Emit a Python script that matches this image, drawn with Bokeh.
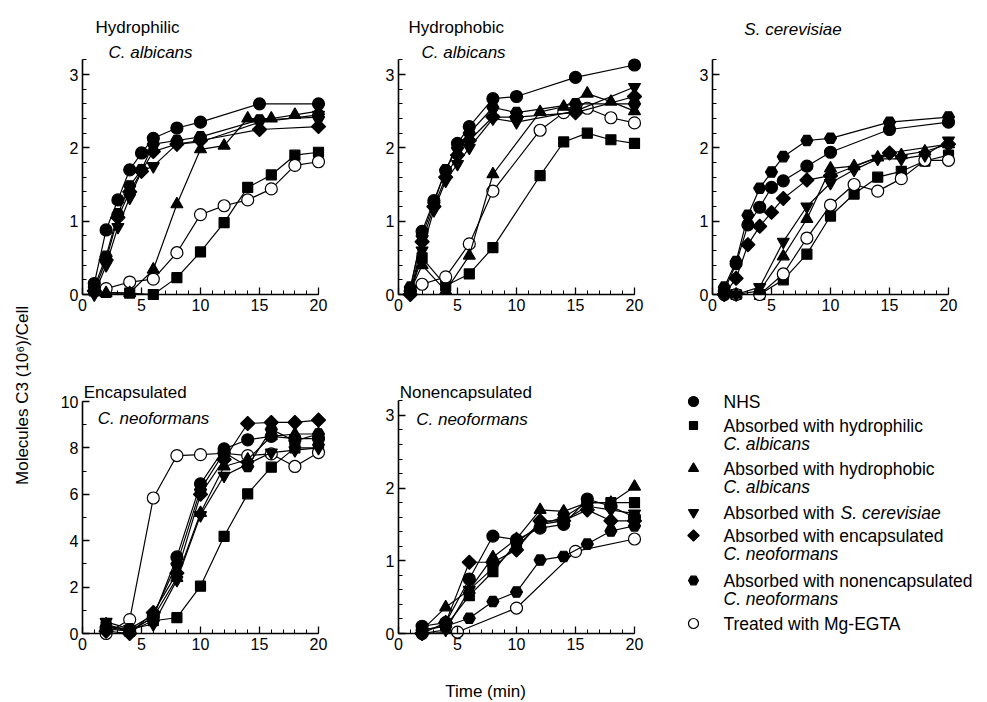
import math
from bokeh.plotting import figure
from bokeh.models import Range1d, Label, SingleIntervalTicker
from bokeh.layouts import row, column
from bokeh.embed import file_html
from bokeh.resources import INLINE

FONT = "Liberation Sans"

# ---------------- data ----------------
# Panel 1: Hydrophilic C. albicans
T1A = [1, 2, 3, 4, 5, 6, 8, 10, 15, 20]
T1B = [1, 2, 4, 6, 8, 10, 12, 14, 16, 18, 20]
p1_nhs = [0.15, 0.88, 1.29, 1.70, 1.93, 2.13, 2.27, 2.35, 2.60, 2.60]
p1_scer = [0.0, 0.40, 0.92, 1.32, 1.68, 1.75, 2.05, 2.08, 2.35, 2.45]
p1_enc = [0.05, 0.47, 1.05, 1.40, 1.68, 1.95, 2.05, 2.10, 2.25, 2.29]
p1_nonenc = [0.10, 0.52, 1.10, 1.48, 1.70, 2.05, 2.10, 2.15, 2.38, 2.42]
p1_hphil = [0.05, 0.03, 0.02, 0.0, 0.23, 0.58, 0.98, 1.46, 1.63, 1.90, 1.94]
p1_hphob = [0.05, 0.02, 0.02, 0.34, 1.23, 1.98, 2.03, 2.40, 2.40, 2.45, 2.50]
p1_egta = [0.05, 0.08, 0.17, 0.21, 0.57, 1.09, 1.21, 1.29, 1.44, 1.76, 1.81]

# Panel 2: Hydrophobic C. albicans
T2A = [1, 2, 3, 4, 5, 6, 8, 10, 15, 20]
T2B = [1, 2, 4, 6, 8, 12, 14, 16, 18, 20]
p2_nhs = [0.05, 0.86, 1.28, 1.69, 2.06, 2.29, 2.67, 2.70, 2.96, 3.13]
p2_scer = [0.0, 0.60, 1.15, 1.55, 1.78, 2.00, 2.40, 2.35, 2.50, 2.83]
p2_enc = [0.0, 0.72, 1.20, 1.60, 1.90, 2.10, 2.42, 2.42, 2.48, 2.70]
p2_nonenc = [0.10, 0.80, 1.25, 1.70, 2.00, 2.20, 2.55, 2.48, 2.60, 2.60]
p2_hphil = [0.05, 0.50, 0.12, 0.28, 0.64, 1.62, 2.08, 2.20, 2.11, 2.06]
p2_hphob = [0.05, 0.40, 0.05, 0.53, 1.64, 2.49, 2.56, 2.74, 2.63, 2.50]
p2_egta = [0.05, 0.14, 0.24, 0.69, 1.41, 2.24, 2.48, 2.54, 2.41, 2.34]

# Panel 3: S. cerevisiae
T3A = [1, 2, 3, 4, 5, 6, 8, 10, 15, 20]
T3B = [1, 2, 4, 6, 8, 10, 12, 14, 16, 18, 20]
p3_nhs = [0.05, 0.42, 0.95, 1.19, 1.46, 1.55, 1.75, 1.94, 2.25, 2.35]
p3_nonenc = [0.10, 0.45, 1.08, 1.45, 1.67, 1.88, 2.10, 2.13, 2.35, 2.42]
p3_enc = [0.0, 0.22, 0.68, 0.93, 1.12, 1.31, 1.56, 1.62, 1.93, 2.05]
p3_scer = [0.0, 0.0, 0.10, 0.72, 1.20, 1.52, 1.70, 1.85, 1.85, 1.90, 2.10]
p3_hphob = [0.05, 0.0, 0.05, 0.52, 1.03, 1.72, 1.75, 1.87, 1.90, 1.95, 2.05]
p3_hphil = [0.05, 0.0, 0.0, 0.20, 0.55, 1.07, 1.37, 1.60, 1.68, 1.82, 1.90]
p3_egta = [0.0, 0.0, 0.0, 0.28, 0.77, 1.22, 1.50, 1.41, 1.58, 1.83, 1.83]

# Panel 4: Encapsulated C. neoformans
T4 = [2, 4, 6, 8, 10, 12, 14, 16, 18, 20]
p4_nhs = [0.2, 0.1, 0.7, 3.3, 6.45, 7.96, 8.35, 8.5, 8.4, 8.4]
p4_hphil = [0.3, 0.1, 0.55, 0.68, 2.04, 4.19, 6.02, 7.17, 8.0, 8.0]
p4_hphob = [0.4, 0.1, 0.7, 2.4, 5.2, 7.2, 7.5, 8.5, 8.6, 8.6]
p4_scer = [0.5, 0.2, 0.4, 2.3, 5.1, 6.8, 7.3, 7.8, 7.9, 8.0]
p4_enc = [0.1, 0.0, 0.9, 2.6, 6.0, 7.5, 9.05, 9.1, 9.1, 9.2]
p4_nonenc = [0.3, 0.2, 0.8, 3.0, 6.2, 7.8, 7.2, 8.8, 8.3, 8.6]
p4_egta = [0.0, 0.6, 5.84, 7.67, 7.71, 7.77, 7.67, 7.74, 7.2, 7.8]

# Panel 5: Nonencapsulated C. neoformans
T5 = [2, 4, 6, 8, 10, 12, 14, 16, 18, 20]
T5E = [2, 5, 10, 15, 20]
p5_nhs = [0.10, 0.15, 0.75, 1.34, 1.29, 1.45, 1.50, 1.85, 1.75, 1.60]
p5_hphil = [0.05, 0.10, 0.52, 0.85, 1.25, 1.50, 1.60, 1.80, 1.80, 1.80]
p5_hphob = [0.05, 0.36, 0.60, 1.05, 1.30, 1.70, 1.68, 1.80, 1.80, 2.02]
p5_scer = [0.0, 0.05, 0.60, 0.90, 1.20, 1.50, 1.55, 1.75, 1.70, 1.65]
p5_enc = [0.0, 0.15, 0.98, 0.98, 1.15, 1.55, 1.55, 1.70, 1.55, 1.55]
p5_nonenc = [0.05, 0.10, 0.21, 0.44, 0.57, 1.01, 1.06, 1.23, 1.41, 1.48]
p5_egta = [0.0, 0.02, 0.35, 1.13, 1.30]

# ---------------- styles ----------------
STY = {
    "nhs": dict(marker="circle", size=12, fill_color="black", angle=0.0),
    "hphil": dict(marker="square", size=10, fill_color="black", angle=0.0),
    "hphob": dict(marker="triangle", size=12, fill_color="black", angle=0.0),
    "scer": dict(marker="inverted_triangle", size=12, fill_color="black", angle=0.0),
    "enc": dict(marker="square", size=10, fill_color="black", angle=math.pi / 4),
    "nonenc": dict(marker="hex", size=12, fill_color="black", angle=0.0),
    "egta": dict(marker="circle", size=12, fill_color="white", angle=0.0),
}

SX = 11.8  # px per minute
TICK_FS = "16px"
TXT_FS = "17px"
LEG_FS = "17.5px"


def make_panel(w, h, bl, bb, x0px, y0px, sy, bounds_y, interval_y, minor_y):
    fw, fh = w - bl, h - bb
    xs = -x0px / SX
    ys = -(fh - y0px) / sy
    p = figure(width=w, height=h, output_backend="svg", toolbar_location=None, title=None,
               x_range=Range1d(xs, xs + fw / SX), y_range=Range1d(ys, ys + fh / sy),
               min_border_left=bl, min_border_right=0, min_border_top=0, min_border_bottom=bb)
    p.outline_line_color = None
    p.xgrid.visible = False
    p.ygrid.visible = False
    p.background_fill_color = "white"
    p.border_fill_color = "white"
    p.xaxis.fixed_location = 0
    p.yaxis.fixed_location = 0
    p.xaxis.bounds = (0, 20)
    p.yaxis.bounds = bounds_y
    p.xaxis.ticker = SingleIntervalTicker(interval=5, num_minor_ticks=5)
    p.yaxis.ticker = SingleIntervalTicker(interval=interval_y, num_minor_ticks=minor_y)
    for ax in (p.xaxis, p.yaxis):
        ax.axis_line_width = 1.6
        ax.axis_line_color = "black"
        ax.major_tick_in = 7
        ax.major_tick_out = 0
        ax.minor_tick_in = 4
        ax.minor_tick_out = 0
        ax.major_tick_line_width = 1.3
        ax.minor_tick_line_width = 1.0
        ax.major_tick_line_color = "black"
        ax.minor_tick_line_color = "black"
        ax.major_label_text_font = FONT
        ax.major_label_text_font_size = TICK_FS
        ax.major_label_text_color = "black"
    p.xaxis.major_label_standoff = 4
    p.yaxis.major_label_standoff = 4
    return p


def add_series(p, xs, ys, key):
    s = STY[key]
    p.line(xs, ys, line_color="black", line_width=1.2)
    p.scatter(xs, ys, marker=s["marker"], size=s["size"], angle=s["angle"],
              fill_color=s["fill_color"], line_color="black", line_width=1.2)


def add_title(p, x, y, text, italic=False):
    p.add_layout(Label(x=x, y=y, text=text, text_font=FONT, text_font_size=TXT_FS,
                       text_font_style="italic" if italic else "normal",
                       text_baseline="middle", text_align="left", text_color="black"))


# top row: canvas 345 tall; zero line 294 px from canvas top
TOP_H, TOP_BB = 345, 26
f1 = make_panel(325, TOP_H, 24, TOP_BB, 23, 294, 73.33, (0, 3.2), 1, 5)
f2 = make_panel(314, TOP_H, 24, TOP_BB, 14, 294, 73.33, (0, 3.2), 1, 5)
f3 = make_panel(311, TOP_H, 24, TOP_BB, 14, 294, 73.33, (0, 3.2), 1, 5)

# bottom row: canvas 335 tall; zero line 288 px from canvas top
BOT_H, BOT_BB = 335, 24
f4 = make_panel(325, BOT_H, 24, BOT_BB, 23, 288, 23.2, (0, 10), 2, 2)
f5 = make_panel(314, BOT_H, 24, BOT_BB, 14, 288, 72.7, (0, 3.2), 1, 5)

order = ["hphil", "egta", "hphob", "scer", "enc", "nonenc", "nhs"]

panel_data = [
    (f1, {"nhs": (T1A, p1_nhs), "scer": (T1A, p1_scer), "enc": (T1A, p1_enc),
          "nonenc": (T1A, p1_nonenc), "hphil": (T1B, p1_hphil), "hphob": (T1B, p1_hphob),
          "egta": (T1B, p1_egta)}),
    (f2, {"nhs": (T2A, p2_nhs), "scer": (T2A, p2_scer), "enc": (T2A, p2_enc),
          "nonenc": (T2A, p2_nonenc), "hphil": (T2B, p2_hphil), "hphob": (T2B, p2_hphob),
          "egta": (T2B, p2_egta)}),
    (f3, {"nhs": (T3A, p3_nhs), "nonenc": (T3A, p3_nonenc), "enc": (T3A, p3_enc),
          "scer": (T3B, p3_scer), "hphob": (T3B, p3_hphob), "hphil": (T3B, p3_hphil),
          "egta": (T3B, p3_egta)}),
    (f4, {"nhs": (T4, p4_nhs), "hphil": (T4, p4_hphil), "hphob": (T4, p4_hphob),
          "scer": (T4, p4_scer), "enc": (T4, p4_enc), "nonenc": (T4, p4_nonenc),
          "egta": (T4, p4_egta)}),
    (f5, {"nhs": (T5, p5_nhs), "hphil": (T5, p5_hphil), "hphob": (T5, p5_hphob),
          "scer": (T5, p5_scer), "enc": (T5, p5_enc), "nonenc": (T5, p5_nonenc),
          "egta": (T5E, p5_egta)}),
]
for p, d in panel_data:
    for k in order:
        xs, ys = d[k]
        add_series(p, xs, ys, k)

# panel titles (in each panel's data units)
add_title(f1, 1.1, 3.64, "Hydrophilic")
add_title(f1, 2.2, 3.30, "C. albicans", italic=True)
add_title(f2, 0.85, 3.64, "Hydrophobic")
add_title(f2, 1.95, 3.30, "C. albicans", italic=True)
add_title(f3, 2.7, 3.62, "S. cerevisiae", italic=True)
add_title(f4, 0.1, 10.39, "Encapsulated")
add_title(f4, 1.3, 9.27, "C. neoformans", italic=True)
add_title(f5, 0.1, 3.31, "Nonencapsulated")
add_title(f5, 1.5, 2.94, "C. neoformans", italic=True)

# ---------------- legend panel ----------------
LEG_FH = BOT_H - BOT_BB
leg = figure(width=311, height=BOT_H, output_backend="svg", toolbar_location=None, title=None,
             x_range=Range1d(0, 311), y_range=Range1d(LEG_FH, 0),
             x_axis_type=None, y_axis_type=None, min_border_left=0, min_border_right=0,
             min_border_top=0, min_border_bottom=BOT_BB)
leg.outline_line_color = None
leg.xgrid.visible = False
leg.ygrid.visible = False

leg_keys = ["nhs", "hphil", "hphob", "scer", "enc", "nonenc", "egta"]
leg_y = [56, 80, 123, 167, 190, 235, 278]
leg_lines = [
    [("NHS", False)],
    [("Absorbed with hydrophilic", False), ("C. albicans", True)],
    [("Absorbed with hydrophobic", False), ("C. albicans", True)],
    [("Absorbed with ", False)],
    [("Absorbed with encapsulated", False), ("C. neoformans", True)],
    [("Absorbed with nonencapsulated", False), ("C. neoformans", True)],
    [("Treated with Mg-EGTA", False)],
]
for k, yy, lines in zip(leg_keys, leg_y, leg_lines):
    s = STY[k]
    leg.scatter([19], [yy], marker=s["marker"], size=s["size"] - 2, angle=s["angle"],
                fill_color=s["fill_color"], line_color="black", line_width=1.2)
    for i, (t, it) in enumerate(lines):
        leg.add_layout(Label(x=49, y=yy + i * 18.5, text=t, text_font=FONT, text_font_size=LEG_FS,
                             text_font_style="italic" if it else "normal",
                             text_baseline="middle", text_align="left", text_color="black"))
leg.add_layout(Label(x=166, y=167, text="S. cerevisiae", text_font=FONT, text_font_size=LEG_FS,
                     text_font_style="italic", text_baseline="middle", text_align="left",
                     text_color="black"))

# ---------------- x label ----------------
XL_H = 700 - TOP_H - BOT_H
xlab = figure(width=950, height=XL_H, output_backend="svg", toolbar_location=None, title=None,
              x_range=Range1d(0, 950), y_range=Range1d(XL_H, 0),
              x_axis_type=None, y_axis_type=None, min_border=0)
xlab.outline_line_color = None
xlab.xgrid.visible = False
xlab.ygrid.visible = False
xlab.add_layout(Label(x=450, y=11, text="Time (min)", text_font=FONT, text_font_size=TXT_FS,
                      text_align="center", text_baseline="middle", text_color="black"))

# ---------------- y label ----------------
ylab = figure(width=35, height=700, output_backend="svg", toolbar_location=None, title=None,
              x_range=Range1d(0, 35), y_range=Range1d(700, 0),
              x_axis_type=None, y_axis_type=None, min_border=0)
ylab.outline_line_color = None
ylab.xgrid.visible = False
ylab.ygrid.visible = False
ylab.add_layout(Label(x=22, y=395, text="Molecules C3 (10\u2076)/Cell", angle=math.pi / 2,
                      text_font=FONT, text_font_size=TXT_FS, text_align="center",
                      text_baseline="middle", text_color="black"))

layout = row(ylab, column(row(f1, f2, f3), row(f4, f5, leg), xlab))

open("out.html", "w").write(file_html(layout, INLINE))
